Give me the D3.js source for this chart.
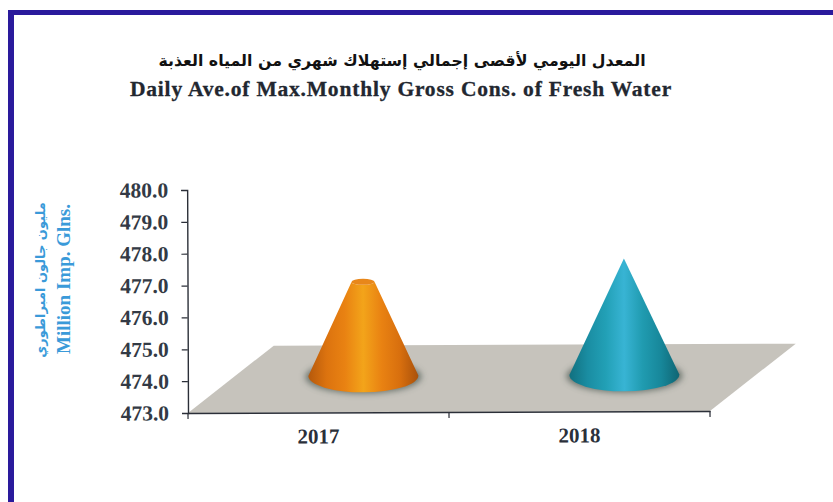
<!DOCTYPE html>
<html>
<head>
<meta charset="utf-8">
<script src="https://cdn.jsdelivr.net/npm/d3@7"></script>
<style>
  html, body { margin: 0; padding: 0; background: #fff; }
  svg { display: block; }
</style>
</head>
<body>
<div id="chart"></div>
<script>
var years = ["2017", "2018"];
var values = [475.95, 476.65];
var yTicks = [473, 474, 475, 476, 477, 478, 479, 480];
var titleAr = "المعدل اليومي لأقصى إجمالي إستهلاك شهري من المياه العذبة";
var titleEn = "Daily Ave.of Max.Monthly Gross Cons. of Fresh Water";
var unitAr = "مليون جالون امبراطوري";
var unitEn = "Million Imp. Glns.";

var width = 833, height = 502,
    serif = "'Liberation Serif', serif",
    depthX = 86, depthY = 67;

var svg = d3.select("#chart").append("svg")
    .attr("width", width)
    .attr("height", height);

var defs = svg.append("defs");
defs.append("filter").attr("id", "soft")
    .attr("x", "-30%").attr("y", "-60%").attr("width", "160%").attr("height", "220%")
  .append("feGaussianBlur").attr("stdDeviation", 3);

addGradient("cone2017", ["#b5590c", "#dc730f", "#e98212", "#f3a41a", "#e98212", "#d86f0e", "#a9510b"]);
addGradient("cone2018", ["#11707f", "#1a8da2", "#22a0b6", "#38b4d4", "#209bb0", "#17879a", "#0f6573"]);

function addGradient(id, stops){
  var g = defs.append("linearGradient").attr("id", id);
  stops.forEach(function(c, i){
    g.append("stop").attr("offset", i / (stops.length - 1)).attr("stop-color", c);
  });
}

// page frame
svg.append("rect").attr("x", 8).attr("y", 10).attr("width", 6).attr("height", height - 10).attr("fill", "#2a1a9c");
svg.append("rect").attr("x", 8).attr("y", 10).attr("width", width - 8).attr("height", 5).attr("fill", "#2a1a9c");

// titles
svg.append("text").attr("x", 402).attr("y", 66).attr("text-anchor", "middle")
   .attr("font-family", "'DejaVu Sans', sans-serif").attr("font-weight", "bold")
   .attr("font-size", 15.8).attr("fill", "#111").text(titleAr);
svg.append("text").attr("x", 401).attr("y", 96).attr("text-anchor", "middle")
   .attr("font-family", serif).attr("font-weight", "bold")
   .attr("font-size", 21.5).attr("letter-spacing", 0.8).attr("fill", "#222730")
   .attr("stroke", "#222730").attr("stroke-width", 0.3).text(titleEn);

// unit labels
svg.append("text").attr("transform", "translate(45,280) rotate(-90)").attr("text-anchor", "middle")
   .attr("font-family", "'DejaVu Sans', sans-serif").attr("font-weight", "bold").attr("font-size", 13)
   .attr("fill", "#3a9ad9").text(unitAr);
svg.append("text").attr("transform", "translate(70,279) rotate(-90)").attr("text-anchor", "middle")
   .attr("font-family", serif).attr("font-weight", "bold").attr("font-size", 19)
   .attr("fill", "#3a9ad9").text(unitEn);

// the scan is tilted a little, so the plot is too
var plot = svg.append("g").attr("transform", "rotate(-0.22 188 413)");

var y = d3.scaleLinear().domain([473, 480]).range([413, 190]);
var x = d3.scaleBand().domain(years).range([188, 710]);

// floor
plot.append("polygon")
    .attr("points", [[x.range()[0], y(473)], [x.range()[1], y(473)],
                     [x.range()[1] + depthX, y(473) - depthY], [x.range()[0] + depthX, y(473) - depthY]].join(" "))
    .attr("fill", "#c6c3bc");

// cones, standing in the middle of the floor's depth
var cones = plot.selectAll("g.cone").data(years).enter().append("g").attr("class", "cone");
var baseRx = 55, baseRy = 16.5;

cones.each(function(year, i){
  var g = d3.select(this),
      cx = x(year) + x.bandwidth() / 2 + depthX / 2 + 2,
      baseY = y(473) - depthY / 2 - 3,
      topY = y(values[i]) - depthY / 2 - 3,
      topRx = year === "2017" ? 11.5 : 0,
      topRy = year === "2017" ? 3 : 0;

  g.append("ellipse").attr("cx", cx).attr("cy", baseY + 1)
   .attr("rx", baseRx + 3).attr("ry", baseRy)
   .attr("fill", "#4a5750").attr("fill-opacity", 0.75).attr("filter", "url(#soft)");

  g.append("path")
   .attr("d", "M" + (cx - baseRx) + "," + baseY +
              "A" + baseRx + "," + baseRy + " 0 0 0 " + (cx + baseRx) + "," + baseY +
              "L" + (cx + topRx) + "," + topY +
              (topRx ? "A" + topRx + "," + topRy + " 0 0 1 " + (cx - topRx) + "," + topY : "") + "Z")
   .attr("fill", "url(#cone" + year + ")");

  if (topRx) {
    g.append("ellipse").attr("cx", cx).attr("cy", topY)
     .attr("rx", topRx).attr("ry", topRy).attr("fill", "#e8871a");
  }
});

// axes
var yAxis = plot.append("g").attr("transform", "translate(188,0)")
    .call(d3.axisLeft(y).tickValues(yTicks).tickFormat(d3.format(".1f")).tickSize(6).tickPadding(13));
var xAxis = plot.append("g").attr("transform", "translate(0," + y(473) + ")")
    .call(d3.axisBottom(x).tickSize(0).tickPadding(16));

xAxis.selectAll(".tick-edge").data(d3.range(years.length + 1)).enter().append("line")
    .attr("class", "tick-edge")
    .attr("x1", function(d){ return x.range()[0] + d * x.step(); })
    .attr("x2", function(d){ return x.range()[0] + d * x.step(); })
    .attr("y1", 0).attr("y2", 6)
    .attr("stroke", "#2b2f38").attr("stroke-width", 1.2);

[yAxis, xAxis].forEach(function(a){
  a.select(".domain").attr("stroke", "#2b2f38").attr("stroke-width", 1.4);
  a.selectAll(".tick line").attr("stroke", "#2b2f38").attr("stroke-width", 1.2);
});
yAxis.selectAll("text").attr("font-family", serif).attr("font-weight", "bold")
     .attr("font-size", 21.5).attr("fill", "#333a45");
xAxis.selectAll("text").attr("font-family", serif).attr("font-weight", "bold")
     .attr("font-size", 21).attr("fill", "#2b303a");
</script>
</body>
</html>
